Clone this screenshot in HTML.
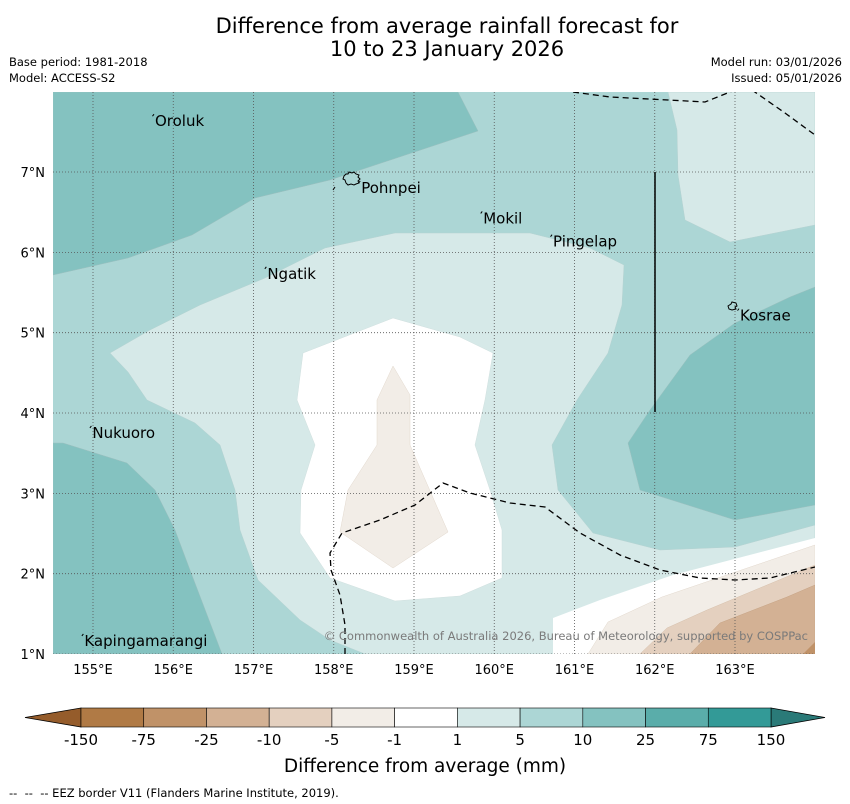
<!DOCTYPE html>
<html><head><meta charset="utf-8"><style>
html,body{margin:0;padding:0;background:#fff;}
svg{display:block;font-family:"DejaVu Sans","Liberation Sans",sans-serif;}
</style></head><body>
<svg id="chart" width="850" height="804" viewBox="0 0 850 804">
<text x="447" y="33" font-size="21" text-anchor="middle">Difference from average rainfall forecast for</text>
<text x="447" y="56" font-size="21" text-anchor="middle">10 to 23 January 2026</text>
<text x="9" y="66" font-size="11.5">Base period: 1981-2018</text>
<text x="9" y="82" font-size="11.5">Model: ACCESS-S2</text>
<text x="842" y="66" font-size="11.5" text-anchor="end">Model run: 03/01/2026</text>
<text x="842" y="82" font-size="11.5" text-anchor="end">Issued: 05/01/2026</text>
<defs><clipPath id="mapclip"><rect x="53" y="92" width="762" height="562"/></clipPath></defs>
<g clip-path="url(#mapclip)">
<rect x="53" y="92" width="762" height="562" fill="#acd6d5"/>
<polygon fill="#84c2c0" stroke="#9bbfbe" stroke-width="0.5" points="53,92 458,92 478,131 330,180 255,198 192,235 128,258 53,275"/>
<polygon fill="#84c2c0" stroke="#9bbfbe" stroke-width="0.5" points="53,443 63,443 127,463 155,490 175,530 190,570 222,654 53,654"/>
<polygon fill="#84c2c0" stroke="#9bbfbe" stroke-width="0.5" points="815,287 790,297 735,323 690,355 650,410 628,443 640,490 735,520 815,505"/>
<polygon fill="#d6e9e8" stroke="#b5d2d1" stroke-width="0.5" points="668,92 815,92 815,225 790,230 730,242 685,220 678,175 677,130"/>
<polygon fill="#d6e9e8" stroke="#b5d2d1" stroke-width="0.5" points="110,353 150,330 200,305 265,278 325,248 395,233 530,233 590,248 624,265 622,305 608,353 577,400 552,445 558,490 593,533 660,550 735,547 815,525 815,654 365,654 330,640 300,620 258,580 240,530 235,490 220,445 195,423 147,400 128,372"/>
<polygon fill="#ffffff" stroke="#d0e0df" stroke-width="0.5" points="303,353 393,318 460,337 493,353 485,400 475,445 490,490 502,530 502,578 460,596 395,601 330,578 300,533 301,490 315,445 297,400"/>
<polygon fill="#ffffff" points="553,654 553,618 600,600 673,575 815,538 815,654"/>
<polygon fill="#f2ede7" stroke="#e2d8cd" stroke-width="0.5" points="393,366 410,395 410,445 448,532 393,568 340,532 348,490 377,445 377,400"/>
<polygon fill="#f2ede7" stroke="#e2d8cd" stroke-width="0.5" points="588,654 608,622 662,597 815,545 815,654"/>
<polygon fill="#e4d0bf" stroke="#d6c0ac" stroke-width="0.5" points="640,654 667,628 707,610 815,565 815,654"/>
<polygon fill="#d3b194" stroke="#c5a283" stroke-width="0.5" points="690,654 720,623 787,597 815,585 815,654"/>
<polygon fill="#c09268" points="803,654 815,642 815,654"/>
<g id="grid"></g>
<polyline fill="none" stroke="#000" stroke-width="1.3" stroke-dasharray="6,4" points="573,92 610,97 668,100 705,102 735,90"/>
<polyline fill="none" stroke="#000" stroke-width="1.3" stroke-dasharray="6,4" points="752,90 785,113 815,135"/>
<polyline fill="none" stroke="#000" stroke-width="1.3" stroke-dasharray="6,4" points="345,654 345,625 340,595 331,570 330,553 342,533 380,520 415,505 443,483 470,493 510,503 545,507 580,533 620,555 660,570 700,578 735,580 770,578 815,567"/>
<line x1="655" y1="172" x2="655" y2="412" stroke="#000" stroke-width="1.5"/>
<path d="M344,176 l2,-2 l2,0 l1,-2 l3,1 l2,-1 l2,2 l3,1 l-1,2 l2,2 l-2,2 l1,2 l-3,1 l-2,1 l-3,-1 l-3,1 l-2,-2 l-1,-3 l-2,-1 z" fill="none" stroke="#000" stroke-width="1"/>
<path d="M728,306 l3,-2 l1,-2 l4,1 l1,3 l-2,1 l1,2 l-4,1 l-3,-1 z" fill="none" stroke="#000" stroke-width="1"/>
<line x1="333" y1="190" x2="335" y2="187" stroke="#000" stroke-width="1"/>
<g id="places"></g>
<text x="808" y="640" font-size="11.5" fill="#7a7a7a" text-anchor="end">© Commonwealth of Australia 2026, Bureau of Meteorology, supported by COSPPac</text>
</g>
<g id="axes"></g>
<g id="cbar"></g>
<text x="425" y="772" font-size="18.5" text-anchor="middle">Difference from average (mm)</text>
<text x="9" y="797" font-size="11.5" xml:space="preserve">--  --  -- EEZ border V11 (Flanders Marine Institute, 2019).</text>
</svg>
<script>
const lonTicks = [155,156,157,158,159,160,161,162,163];
const latTicks = [1,2,3,4,5,6,7];
const cbarColors = ["#b07a45","#c09268","#d3b194","#e4d0bf","#f2ede7","#ffffff","#d6e9e8","#acd6d5","#84c2c0","#5aadaa","#339a97"];
const cbarLabels = ["-150","-75","-25","-10","-5","-1","1","5","10","25","75","150"];
const places = ["Oroluk","Pohnpei","Mokil","Pingelap","Ngatik","Kosrae","Nukuoro","Kapingamarangi"];
const placeLon = [155.76,158.33,159.85,160.72,157.16,163.05,154.98,154.88];
const placeLat = [7.57,6.74,6.36,6.07,5.67,5.15,3.69,1.1];

const NS="http://www.w3.org/2000/svg";
const xS = lon => 93 + (lon-155)*80.25;
const yS = lat => 654 - (lat-1)*80.33;
function mk(tag, attrs, parent){const e=document.createElementNS(NS,tag);for(const k in attrs)e.setAttribute(k,attrs[k]);parent.appendChild(e);return e;}
const grid=document.getElementById('grid'), axes=document.getElementById('axes');
lonTicks.forEach(l=>{
  const g=mk('line',{x1:xS(l),x2:xS(l),y1:92,y2:654,stroke:'#555','stroke-width':0.8,'stroke-dasharray':'1,2'},grid);
  
  
  const t=mk('text',{x:xS(l),y:674,'font-size':13,'text-anchor':'middle'},axes);
  t.textContent=l+'°E';
  
  
});
latTicks.forEach(l=>{
  const g=mk('line',{x1:53,x2:815,y1:yS(l),y2:yS(l),stroke:'#555','stroke-width':0.8,'stroke-dasharray':'1,2'},grid);
  
  
  const t=mk('text',{x:45,y:yS(l)+5,'font-size':13,'text-anchor':'end'},axes);
  t.textContent=l+'°N';
  
  
});
const pg=document.getElementById('places');
places.forEach((p,i)=>{
  const x=xS(placeLon[i]), y=yS(placeLat[i]);
  const d=mk('line',{x1:x-1.5,y1:y-10,x2:x,y2:y-12,stroke:'#000','stroke-width':1},pg);
  
  
  const t=mk('text',{x:x+1,y:y,'font-size':15},pg);
  t.textContent=p;
  
  
});
const cb=document.getElementById('cbar');
const cx0=81, cx1=771, cy=708, ch=19, sw=(cx1-cx0)/cbarColors.length;
const lt=mk('polygon',{points:`${cx0},${cy} 25,${cy+ch/2} ${cx0},${cy+ch}`,fill:'#955c2b',stroke:'#000','stroke-width':0.8},cb);


const rt=mk('polygon',{points:`${cx1},${cy} 825,${cy+ch/2} ${cx1},${cy+ch}`,fill:'#2a7a78',stroke:'#000','stroke-width':0.8},cb);


cbarColors.forEach((c,i)=>{
  const r=mk('rect',{x:cx0+i*sw,y:cy,width:sw,height:ch,fill:c,stroke:'#000','stroke-width':0.6},cb);
  
  
});
cbarLabels.forEach((l,i)=>{
  const t=mk('text',{x:cx0+i*sw,y:745,'font-size':15,'text-anchor':'middle'},cb);
  t.textContent=l;
  
  
});
</script>
</body></html>
